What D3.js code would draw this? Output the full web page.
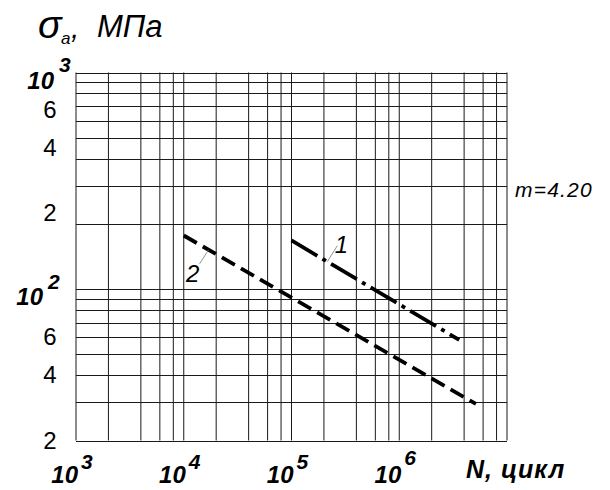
<!DOCTYPE html>
<html><head><meta charset="utf-8">
<script src="https://cdn.jsdelivr.net/npm/d3@7"></script>
<style>
html,body{margin:0;padding:0;background:#fff;}
svg{display:block;}
text{font-family:Arial,"Liberation Sans",sans-serif;fill:#000;}
</style></head>
<body>
<svg id="chart" width="610" height="490"></svg>
<script>
// ---- data ----
const xDomain = [1e3, 1e7];
const yDomain = [20, 1000];
const xGridMultipliers = [1, 2, 4, 6, 8];
const xDecades = [1e3, 1e4, 1e5, 1e6];
const yGridMultipliers = [1, 2, 3, 4, 5, 6, 7, 8, 9];
const yDecades = [10, 100];
const xPowerValues = [1e3, 1e4, 1e5, 1e6];
const xPowerExps = ["3", "4", "5", "6"];
const yPowerValues = [1000, 100];
const yPowerExps = ["3", "2"];
const yMinorLabelValues = [600, 400, 200, 60, 40, 20];
const yMinorLabelTexts = ["6", "4", "2", "6", "4", "2"];
const series1N = [1e5, 3.6e6];
const series1S = [167.7, 58.3];
const series2N = [1e4, 5.15e6];
const series2S = [176.8, 29.5];
const seriesNames = ["1", "2"];
const annotation = "m=4.20";

// ---- layout ----
const L = 76, R = 507, T = 72.5, B = 440.5;
const svg = d3.select("#chart");
const x = d3.scaleLog().domain(xDomain).range([L, R]);
const y = d3.scaleLog().domain(yDomain).range([B, T]);

const xGrid = [];
xDecades.forEach(d => xGridMultipliers.forEach(m => xGrid.push(d * m)));
xGrid.push(xDomain[1]);
const yGrid = [];
yDecades.forEach(d => yGridMultipliers.forEach(m => { const v = d * m; if (v >= yDomain[0]) yGrid.push(v); }));
yGrid.push(yDomain[1]);

const grid = svg.append("g").attr("stroke", "#1a1a1a").attr("stroke-width", 1);
grid.selectAll("line.v").data(xGrid).join("line").attr("class", "v")
  .attr("x1", d => x(d)).attr("x2", d => x(d)).attr("y1", T).attr("y2", B);
grid.selectAll("line.h").data(yGrid).join("line").attr("class", "h")
  .attr("x1", L).attr("x2", R).attr("y1", d => Math.round(y(d)) + 0.5).attr("y2", d => Math.round(y(d)) + 0.5);

// series lines
const line = d3.line().x(d => x(d[0])).y(d => y(d[1]));
svg.append("path").datum(series1N.map((n, i) => [n, series1S[i]]))
  .attr("d", line).attr("fill", "none").attr("stroke", "#000")
  .attr("stroke-width", 3.8).attr("stroke-dasharray", "30,6,4,6");
svg.append("path").datum(series2N.map((n, i) => [n, series2S[i]]))
  .attr("d", line).attr("fill", "none").attr("stroke", "#000")
  .attr("stroke-width", 3.8).attr("stroke-dasharray", "15,7");

// series labels with leaders
function leader(x1, y1, x2, y2) {
  svg.append("line").attr("x1", x1).attr("y1", y1).attr("x2", x2).attr("y2", y2)
    .attr("stroke", "#777").attr("stroke-width", 0.8);
}
function interp(N, S, n) {
  const k = Math.log(S[1] / S[0]) / Math.log(N[1] / N[0]);
  return S[0] * Math.pow(n / N[0], k);
}
{
  const n = 2.15e5, s = interp(series1N, series1S, n);
  const px = x(n), py = y(s);
  leader(px, py, px + 10, py - 16);
  svg.append("text").attr("x", px + 14).attr("y", py - 9).attr("text-anchor", "middle")
    .attr("font-size", 24).attr("font-style", "italic").text(seriesNames[0]);
}
{
  const n = 1.7e4, s = interp(series2N, series2S, n);
  const px = x(n), py = y(s);
  leader(px, py, px - 9, py + 14);
  svg.append("text").attr("x", px - 16).attr("y", py + 32).attr("text-anchor", "middle")
    .attr("font-size", 24).attr("font-style", "italic").text(seriesNames[1]);
}

// y minor labels
svg.selectAll("text.ym").data(yMinorLabelValues).join("text").attr("class", "ym")
  .attr("x", 50).attr("y", (d) => y(d) + (d >= 100 ? -3 : 8))
  .attr("text-anchor", "middle").attr("font-size", 24)
  .text((d, i) => yMinorLabelTexts[i]);

// y power labels
yPowerValues.forEach((v, i) => {
  const xr = v === 1000 ? 54 : 43;
  svg.append("text").attr("x", xr).attr("y", y(v) + 16).attr("text-anchor", "end")
    .attr("font-size", 24).attr("font-style", "italic").attr("font-weight", "bold").text("10");
  svg.append("text").attr("x", xr + 5).attr("y", y(v) - 0.5)
    .attr("font-size", 21).attr("font-style", "italic").attr("font-weight", "bold").text(yPowerExps[i]);
});

// x power labels
xPowerValues.forEach((v, i) => {
  svg.append("text").attr("x", x(v) + 2).attr("y", 483).attr("text-anchor", "end")
    .attr("font-size", 24).attr("font-style", "italic").attr("font-weight", "bold").text("10");
  svg.append("text").attr("x", x(v) + 5).attr("y", i === 3 ? 465 : 469)
    .attr("font-size", 21).attr("font-style", "italic").attr("font-weight", "bold").text(xPowerExps[i]);
});

// axis titles
svg.append("text").attr("x", 466).attr("y", 478).attr("font-size", 25)
  .attr("font-style", "italic").attr("font-weight", "bold").attr("letter-spacing", 1).text("N, цикл");

svg.append("text").attr("x", 38).attr("y", 38).attr("font-style", "italic")
  .attr("font-size", 39).text("σ");
svg.append("text").attr("x", 61).attr("y", 44).attr("font-style", "italic")
  .attr("font-size", 17).text("a");
svg.append("text").attr("x", 71).attr("y", 38).attr("font-style", "italic")
  .attr("font-size", 30).text(",");
svg.append("text").attr("x", 97).attr("y", 37).attr("font-style", "italic")
  .attr("font-size", 31).text("МПа");

// annotation
svg.append("text").attr("x", 515).attr("y", 197).attr("font-size", 21)
  .attr("font-style", "italic").attr("letter-spacing", 1.2).text(annotation);
</script>
</body></html>
